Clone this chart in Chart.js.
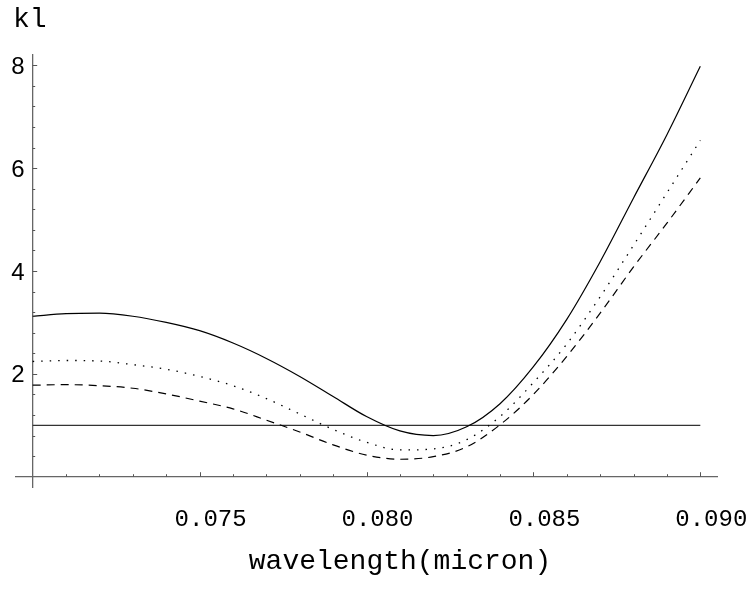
<!DOCTYPE html>
<html>
<head>
<meta charset="utf-8">
<script src="https://cdn.jsdelivr.net/npm/chart.js@4"></script>
<style>
  html, body { margin: 0; padding: 0; background: #fff; }
  canvas { display: block; }
</style>
</head>
<body>
<canvas id="myChart" width="752" height="590"></canvas>
<script>
// wavelength values (micron)
var wavelength = [0.070, 0.071, 0.072, 0.073, 0.074, 0.075, 0.076, 0.077, 0.078, 0.079, 0.080,
                  0.081, 0.082, 0.083, 0.084, 0.085, 0.086, 0.087, 0.088, 0.089, 0.090];
// kl curves
var klSolid  = [3.12, 3.17, 3.18, 3.12, 3.00, 2.84, 2.60, 2.30, 1.95, 1.56, 1.17,
                0.89, 0.80, 0.97, 1.42, 2.14, 3.06, 4.18, 5.42, 6.65, 7.98];
var klDotted = [2.24, 2.26, 2.25, 2.18, 2.09, 1.95, 1.77, 1.52, 1.22, 0.92, 0.67,
                0.52, 0.54, 0.72, 1.17, 1.83, 2.58, 3.50, 4.50, 5.52, 6.54];
var klDashed = [1.78, 1.79, 1.77, 1.72, 1.61, 1.47, 1.32, 1.10, 0.87, 0.62, 0.42,
                0.34, 0.39, 0.58, 1.01, 1.60, 2.34, 3.18, 4.08, 4.93, 5.81];
// reference line kl = 1
var refX = [0.070, 0.090];
var refY = [1, 1];

var xTicks = [0.075, 0.080, 0.085, 0.090];
var yTicks = [2, 4, 6, 8];
var xMinorStep = 0.001;
var yMinorStep = 0.4;

function toPoints(xs, ys) {
    var pts = [];
    for (let i = 0; i < xs.length; i++) pts.push({ x: xs[i], y: ys[i] });
    return pts;
}

// inward tick marks like the original (ticks point into the plot) + texts
var innerTicks = {
    id: 'innerTicks',
    afterDraw(chart) {
        var ctx = chart.ctx;
        var sx = chart.scales.x, sy = chart.scales.y;
        var x0 = sx.getPixelForValue(0.070);
        var y0 = sy.getPixelForValue(0);
        ctx.save();
        ctx.strokeStyle = '#555';
        ctx.lineWidth = 1;
        for (let v = 0.071; v <= 0.0901; v += xMinorStep) {
            var px = Math.round(sx.getPixelForValue(v)) + 0.5;
            var major = xTicks.some(t => Math.abs(t - v) < 1e-6);
            ctx.beginPath();
            ctx.moveTo(px, y0);
            ctx.lineTo(px, y0 - (major ? 4.5 : 2.5));
            ctx.stroke();
        }
        for (let k = 1; k * yMinorStep <= 8.01; k++) {
            var v2 = k * yMinorStep;
            var py = Math.round(sy.getPixelForValue(v2)) + 0.5;
            var major2 = yTicks.some(t => Math.abs(t - v2) < 1e-6);
            ctx.beginPath();
            ctx.moveTo(x0, py);
            ctx.lineTo(x0 + (major2 ? 4.5 : 2.5), py);
            ctx.stroke();
        }
        // y tick labels (left of the axis)
        ctx.fillStyle = '#000';
        ctx.font = '24px "Liberation Sans"';
        ctx.textAlign = 'right';
        ctx.textBaseline = 'middle';
        for (const t of yTicks) {
            ctx.fillText(String(t), x0 - 8, sy.getPixelForValue(t) + 2);
        }
        // texts
        ctx.font = '28px "Liberation Mono"';
        ctx.textAlign = 'left';
        ctx.textBaseline = 'alphabetic';
        ctx.fillText('kl', 13, 27);
        ctx.textAlign = 'center';
        ctx.fillText('wavelength(micron)', 400, 569);
        ctx.restore();
    }
};

var ctx = document.getElementById('myChart').getContext('2d');
var myChartInstance = new Chart(ctx, {
    type: 'line',
    data: {
        datasets: [{
            label: 'solid',
            data: toPoints(wavelength, klSolid),
            borderColor: '#000',
            borderWidth: 1.2
        }, {
            label: 'dotted',
            data: toPoints(wavelength, klDotted),
            borderColor: '#000',
            borderWidth: 1.3,
            borderDash: [1.5, 7]
        }, {
            label: 'dashed',
            data: toPoints(wavelength, klDashed),
            borderColor: '#000',
            borderWidth: 1.2,
            borderDash: [8, 6]
        }, {
            label: 'kl=1',
            data: toPoints(refX, refY),
            borderColor: '#333',
            borderWidth: 1.3,
            cubicInterpolationMode: 'default',
            tension: 0
        }]
    },
    options: {
        responsive: false,
        animation: false,
        layout: { padding: { left: 16, right: 35, top: 55, bottom: 103 } },
        elements: {
            point: { radius: 0 },
            line: { cubicInterpolationMode: 'monotone' }
        },
        scales: {
            x: {
                type: 'linear',
                min: 0.0695,
                max: 0.0905,
                position: { y: 0 },
                afterBuildTicks: axis => { axis.ticks = xTicks.map(v => ({ value: v })); },
                afterFit: axis => { axis.paddingLeft = 0; axis.paddingRight = 0; },
                grid: { display: false },
                border: { display: true, color: '#666', width: 1.3 },
                ticks: {
                    color: '#000',
                    font: { family: 'Liberation Mono', size: 24 },
                    padding: 21,
                    labelOffset: 11,
                    maxRotation: 0,
                    callback: v => v.toFixed(3)
                }
            },
            y: {
                type: 'linear',
                min: -0.2,
                max: 8.2,
                position: { x: 0.070 },
                afterBuildTicks: axis => { axis.ticks = yTicks.map(v => ({ value: v })); },
                grid: { display: false },
                border: { display: true, color: '#666', width: 1.3 },
                ticks: { display: false }
            }
        },
        plugins: {
            legend: { display: false },
            tooltip: { enabled: false }
        }
    },
    plugins: [innerTicks]
});
</script>
</body>
</html>
